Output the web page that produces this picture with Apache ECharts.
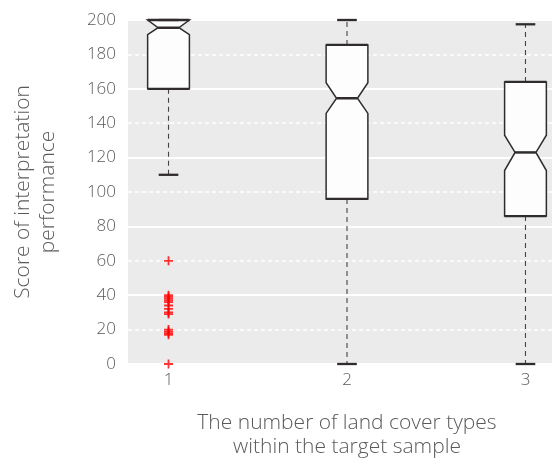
<!DOCTYPE html>
<html>
<head>
<meta charset="utf-8">
<script src="https://cdn.jsdelivr.net/npm/echarts@6/dist/echarts.min.js"></script>
<style>
  html, body { margin: 0; padding: 0; background: #fff; }
  #chart { width: 552px; height: 459px; }
</style>
</head>
<body>
<div id="chart"></div>
<script>
// Group positions on the x axis (number of land cover types)
const groups = [1, 2, 3];

// Box statistics per group
const whiskerLow  = [110, 0, 0];
const q1          = [160, 96, 86];
const notchLow    = [191.5, 145.7, 112.5];
const median      = [195.5, 154.5, 123];
const notchHigh   = [200, 163.5, 133];
const q3          = [200, 185.5, 164];
const whiskerHigh = [200, 200, 197.5];

// Outliers of group 1
const outlierGroup = [1, 1, 1, 1, 1, 1, 1, 1, 1, 1, 1, 1, 1, 1, 1];
const outlierValue = [60, 40, 39, 38, 37, 36, 34, 32, 30, 29, 20, 19, 18, 17, 0];

// Axis ticks
const yLabelTicks = [0, 20, 40, 60, 80, 100, 120, 140, 160, 180, 200];

const FONT = "'Open Sans', 'DejaVu Sans', sans-serif";
const TEXT_COLOR = '#5a5a5a';
const EDGE = '#302c2c';

const boxData = groups.map((g, i) => [g, whiskerLow[i], q1[i], notchLow[i], median[i], notchHigh[i], q3[i], whiskerHigh[i]]);
const outlierData = outlierValue.map((v, i) => [outlierGroup[i], v]);

const HALF_BOX = 0.117;   // half box width in x units
const HALF_CAP = 0.055;   // half whisker cap width

function renderBox(params, api) {
  const x = api.value(0);
  const wl = api.value(1), lo = api.value(2), nl = api.value(3), md = api.value(4),
        nh = api.value(5), hi = api.value(6), wh = api.value(7);
  const L = api.coord([x - HALF_BOX, 0])[0];
  const R = api.coord([x + HALF_BOX, 0])[0];
  const C = api.coord([x, 0])[0];
  const d = (R - L) / 4;
  const y = v => api.coord([x, v])[1];
  const cl = api.coord([x - HALF_CAP, 0])[0];
  const cr = api.coord([x + HALF_CAP, 0])[0];
  const dash = { stroke: '#444', lineWidth: 1.1, lineDash: [5, 4] };
  const solid = w => ({ stroke: EDGE, lineWidth: w });
  const children = [
    // dashed whiskers
    { type: 'line', shape: { x1: C, y1: y(hi), x2: C, y2: y(wh) }, style: dash },
    { type: 'line', shape: { x1: C, y1: y(lo), x2: C, y2: y(wl) }, style: dash },
    // notched box body
    {
      type: 'polygon',
      shape: {
        points: [
          [L, y(lo)], [L, y(nl)], [L + d, y(md)], [L, y(nh)], [L, y(hi)],
          [R, y(hi)], [R, y(nh)], [R - d, y(md)], [R, y(nl)], [R, y(lo)]
        ]
      },
      style: { fill: '#fdfdfd', stroke: EDGE, lineWidth: 1.5 }
    },
    // quartile edges
    { type: 'line', shape: { x1: L, y1: y(lo), x2: R, y2: y(lo) }, style: solid(2.3) },
    { type: 'line', shape: { x1: L, y1: y(hi), x2: R, y2: y(hi) }, style: solid(2.3) },
    // median
    { type: 'line', shape: { x1: L + d, y1: y(md), x2: R - d, y2: y(md) }, style: solid(2.5) },
    // caps
    { type: 'line', shape: { x1: cl, y1: y(wh), x2: cr, y2: y(wh) }, style: solid(2.3) },
    { type: 'line', shape: { x1: cl, y1: y(wl), x2: cr, y2: y(wl) }, style: solid(2.3) }
  ];
  return { type: 'group', children };
}

const chart = echarts.init(document.getElementById('chart'), null, { renderer: 'canvas' });

chart.setOption({
  animation: false,
  backgroundColor: '#ffffff',
  grid: {
    left: 128, right: -14, top: 20, bottom: 95,
    outerBoundsMode: 'none',
    containLabel: false,
    show: true, backgroundColor: '#ebebeb', borderWidth: 0
  },
  xAxis: {
    type: 'value',
    min: 0.773, max: 3.227,
    axisLine: { show: false },
    axisTick: { show: false },
    splitLine: { show: false },
    axisLabel: {
      customValues: groups,
      margin: 8,
      color: TEXT_COLOR, fontFamily: FONT, fontWeight: 300, fontSize: 17
    },
    name: 'The number of land cover types\nwithin the target sample',
    nameLocation: 'middle',
    nameGap: 47,
    nameTextStyle: { color: TEXT_COLOR, fontFamily: FONT, fontWeight: 300, fontSize: 21, lineHeight: 24 }
  },
  yAxis: [
    {
      type: 'value', min: 0, max: 200, interval: 20,
      offset: 6,
      axisLine: { show: false },
      axisTick: { show: false },
      splitLine: { show: true, lineStyle: { color: '#ffffff', width: 1.5, type: [4, 3] } },
      axisLabel: {
        customValues: yLabelTicks,
        margin: 6,
        color: TEXT_COLOR, fontFamily: FONT, fontWeight: 300, fontSize: 17
      },
      name: 'Score of interpretation\nperformance',
      nameLocation: 'middle',
      nameRotate: 90,
      nameGap: 61,
      nameTextStyle: { color: TEXT_COLOR, fontFamily: FONT, fontWeight: 300, fontSize: 21, lineHeight: 25 }
    },
    {
      type: 'value', min: 0, max: 200, interval: 40,
      offset: 6,
      axisLine: { show: false },
      axisTick: { show: true, length: 5, lineStyle: { color: '#444', width: 1.2 } },
      splitLine: { show: true, lineStyle: { color: '#ffffff', width: 2 } },
      axisLabel: { show: false }
    }
  ],
  series: [
    {
      type: 'custom',
      yAxisIndex: 0,
      renderItem: renderBox,
      data: boxData,
      encode: { x: 0, y: [1, 2, 3, 4, 5, 6, 7] },
      clip: false,
      z: 3
    },
    {
      type: 'scatter',
      yAxisIndex: 0,
      data: outlierData,
      symbol: 'path://M4,0H6V4H10V6H6V10H4V6H0V4H4Z',
      symbolSize: 9,
      itemStyle: { color: '#ff0000' },
      z: 4
    }
  ]
});
</script>
</body>
</html>
